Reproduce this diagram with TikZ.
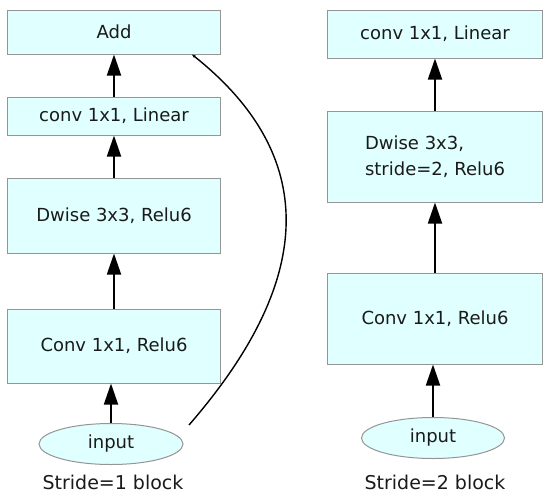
\documentclass[tikz,border=0pt]{standalone}
\usepackage{fontspec}
\setmainfont{DejaVu Sans}
\usetikzlibrary{shapes.geometric,arrows.meta}
\definecolor{boxfill}{HTML}{E0FFFF}
\definecolor{boxline}{HTML}{959595}
\definecolor{txt}{HTML}{1A1A1A}
\tikzset{
	blk/.style={draw=boxline, fill=boxfill, line width=1pt, inner sep=0pt, minimum width=213pt, text=txt, font=\fontsize{18}{26}\selectfont},
	inp/.style={ellipse, draw=boxline, fill=boxfill, line width=1pt, inner sep=0pt, minimum width=144pt, minimum height=41pt, text=txt, font=\fontsize{18}{26}\selectfont},
	lab/.style={text=txt, inner sep=0pt, font=\fontsize{19}{24}\selectfont},
	arr/.style={line width=1.8pt, -{Triangle[length=21pt,width=14pt]}}
}
\begin{document}
\begin{tikzpicture}[x=1pt, y=-1pt]
		%%%%% START %%%%%
		\useasboundingbox (0, 0) rectangle (550, 499);
		
		% stride 1 block
		\node[blk, minimum height=44pt] (add) at (114, 32) {Add};
		\node[blk, minimum height=38pt] (lin1) at (114, 116) {conv 1x1, Linear};
		\node[blk, minimum height=75pt] (dw1) at (114, 215.5) {Dwise 3x3, Relu6};
		\node[blk, minimum height=74pt] (pw1) at (114, 346) {Conv 1x1, Relu6};
		\node[inp] (in1) at (111, 444) {input};
		\node[lab] (lab1) at (113, 482) {Stride=1 block};
		
		\draw[arr] (in1.north) -- (in1.north |- pw1.south);
		\draw[arr] (pw1) -- (dw1);
		\draw[arr] (dw1) -- (lin1);
		\draw[arr] (lin1) -- (add);
		
		% shortcut
		\coordinate (sc) at (189, 425);
		\draw[line width=1.4pt, -{Stealth[length=4pt,width=3pt]}] (sc) .. controls (280, 320) and (350, 180) .. (add.south -| 192, 0);
		
		% stride 2 block
		\node[blk, minimum width=215pt, minimum height=48pt] (lin2) at (435, 34) {conv 1x1, Linear};
		\node[blk, minimum width=215pt, minimum height=91pt, align=left] (dw2) at (435, 156.5) {Dwise 3x3,\\stride=2, Relu6};
		\node[blk, minimum width=215pt, minimum height=91pt] (pw2) at (435, 318.5) {Conv 1x1, Relu6};
		\node[inp, minimum width=143pt] (in2) at (433, 438) {input};
		\node[lab] (lab2) at (435, 482) {Stride=2 block};
		
		\draw[arr] (in2.north) -- (in2.north |- pw2.south);
		\draw[arr] (pw2) -- (dw2);
		\draw[arr] (dw2) -- (lin2);
		
		%%%%% END %%%%%
	\end{tikzpicture}
\end{document}
